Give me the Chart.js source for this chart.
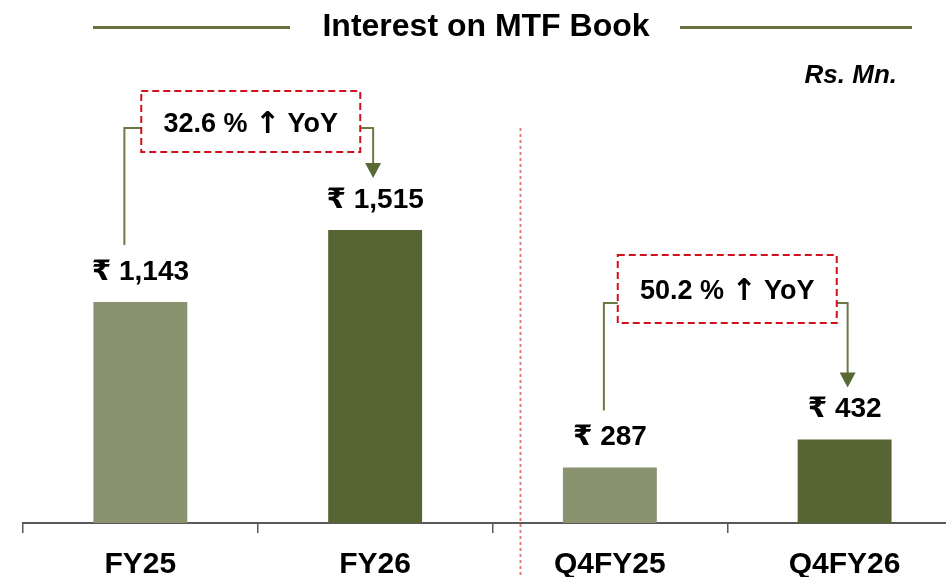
<!DOCTYPE html>
<html lang="en">
<head>
<meta charset="UTF-8">
<title>Interest on MTF Book</title>
<style>
  body { margin: 0; background: #fff; overflow: hidden; font-family: "Liberation Sans", Arial, sans-serif; }
  .wrap { position: relative; width: 946px; height: 577px; overflow: hidden; }
  canvas { position: absolute; left: 0; top: 0; }
  .title { position: absolute; left: 0; width: 946px; top: 9px; text-align: center; font-size: 32px; line-height: 32px; font-weight: bold; color: #000; z-index: 2; }
  .title span { position: relative; left: 13px; }
  .rule { position: absolute; top: 26px; height: 3px; background: #667340; z-index: 2; }
  .unit { position: absolute; right: 49px; top: 61px; font-size: 26px; line-height: 26px; font-weight: bold; font-style: italic; z-index: 2; }
</style>
<script src="https://cdn.jsdelivr.net/npm/chart.js"></script>
</head>
<body>
<div class="wrap">
  <div class="rule" style="left:93px;width:197px"></div>
  <div class="title"><span>Interest on MTF Book</span></div>
  <div class="rule" style="left:680px;width:232px"></div>
  <div class="unit">Rs. Mn.</div>
  <canvas id="mtfChart" width="980" height="577"></canvas>
</div>

<script>
// data
const categories = ['FY25', 'FY26', 'Q4FY25', 'Q4FY26'];
const interest = [1143, 1515, 287, 432];
const growth = [
  { from: 0, to: 1, pct: '32.6 %' },
  { from: 2, to: 3, pct: '50.2 %' }
];

// styling only
const light = '#8a9370', dark = '#576535';
const callouts = [
  { boxDx: -7, boxTop: 91, boxH: 61, elbowY: 128, leftDx: -16, rightDx: -2 },
  { boxDx: 0, boxTop: 255, boxH: 68, elbowY: 303, leftDx: -6, rightDx: 3 }
];
const FONT = '"Liberation Sans", Arial, "DejaVu Sans", sans-serif';

const annotate = {
  id: 'annotate',
  afterDraw(chart) {
    const ctx = chart.ctx, x = chart.scales.x, y = chart.scales.y;
    ctx.save();

    // value labels
    ctx.font = 'bold 28px ' + FONT;
    ctx.textAlign = 'center';
    ctx.textBaseline = 'alphabetic';
    ctx.fillStyle = '#000';
    interest.forEach((v, i) => {
      ctx.fillText('\u20B9 ' + v.toLocaleString('en-US'), x.getPixelForValue(i), y.getPixelForValue(v) - 22);
    });

    // divider between annual and quarter
    const dx = x.getPixelForValue(1.5) + 28;
    ctx.strokeStyle = 'rgba(215,70,70,0.7)';
    ctx.lineWidth = 2;
    ctx.setLineDash([3, 3]);
    ctx.beginPath();
    ctx.moveTo(dx, 128);
    ctx.lineTo(dx, 577);
    ctx.stroke();

    // growth callouts
    growth.forEach((g, k) => {
      const c = callouts[k];
      const x1 = x.getPixelForValue(g.from), x2 = x.getPixelForValue(g.to);
      const top1 = y.getPixelForValue(interest[g.from]) - 22 - 19;
      const top2 = y.getPixelForValue(interest[g.to]) - 22 - 19;
      const bw = 219;
      const bl = (x1 + x2) / 2 + c.boxDx - bw / 2;
      const br = bl + bw;
      const lx = x1 + c.leftDx, rx = x2 + c.rightDx;
      const tip = top2 - 11;

      ctx.setLineDash([]);
      ctx.strokeStyle = '#6b7a45';
      ctx.lineWidth = 2;
      ctx.beginPath();
      ctx.moveTo(lx, top1 - 16);
      ctx.lineTo(lx, c.elbowY);
      ctx.lineTo(bl, c.elbowY);
      ctx.moveTo(br, c.elbowY);
      ctx.lineTo(rx, c.elbowY);
      ctx.lineTo(rx, tip - 12);
      ctx.stroke();
      ctx.fillStyle = '#5a6a35';
      ctx.beginPath();
      ctx.moveTo(rx - 8, tip - 15);
      ctx.lineTo(rx + 8, tip - 15);
      ctx.lineTo(rx, tip);
      ctx.closePath();
      ctx.fill();

      ctx.strokeStyle = '#d0101a';
      ctx.lineWidth = 2;
      ctx.setLineDash([7, 4]);
      ctx.strokeRect(bl, c.boxTop, bw, c.boxH);

      // text: "xx.x % ↑ YoY" with a heavier arrow glyph
      const base = c.boxTop + c.boxH / 2 + 10;
      const f1 = 'bold 27px ' + FONT, f2 = 'bold 30px "DejaVu Sans", sans-serif';
      ctx.font = f1;
      const w1 = ctx.measureText(g.pct + ' ').width, w3 = ctx.measureText(' YoY').width;
      ctx.font = f2;
      const w2 = ctx.measureText('\u2191').width;
      let tx = (bl + br) / 2 - (w1 + w2 + w3) / 2;
      ctx.fillStyle = '#000';
      ctx.textAlign = 'left';
      ctx.font = f1; ctx.fillText(g.pct + ' ', tx, base); tx += w1;
      ctx.font = f2; ctx.fillText('\u2191', tx, base + 1); tx += w2;
      ctx.font = f1; ctx.fillText(' YoY', tx, base);
    });
    ctx.restore();
  }
};

new Chart(document.getElementById('mtfChart'), {
  type: 'bar',
  data: {
    labels: categories,
    datasets: [{
      data: interest,
      backgroundColor: [light, dark, light, dark],
      barPercentage: 0.4,
      categoryPercentage: 1.0
    }]
  },
  options: {
    responsive: false,
    animation: false,
    layout: { padding: { left: 23, right: 18, top: 0, bottom: 0 } },
    plugins: { legend: { display: false }, tooltip: { enabled: false } },
    scales: {
      x: {
        afterFit: s => { s.height = 54; },
        border: { color: '#595959', width: 2 },
        grid: { drawOnChartArea: false, color: '#595959', lineWidth: 1.5, tickLength: 10 },
        ticks: { color: '#000', padding: 14, font: { size: 30, weight: 'bold', family: FONT } }
      },
      y: { display: false, min: 0, max: 2704 }
    }
  },
  plugins: [annotate]
});
</script>
</body>
</html>
